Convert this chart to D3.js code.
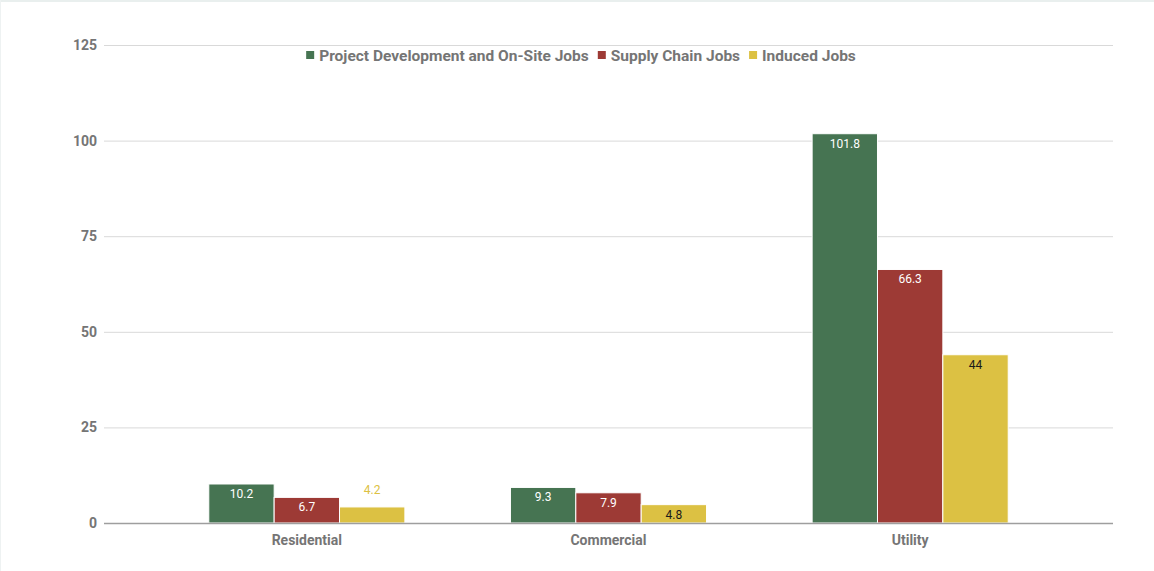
<!DOCTYPE html>
<html>
<head>
<meta charset="utf-8">
<script src="https://cdn.jsdelivr.net/npm/d3@7"></script>
<style>
  html, body { margin: 0; padding: 0; background: #fff; }
  svg { display: block; font-family: Roboto, "Noto Sans", sans-serif; }
</style>
</head>
<body>
<svg id="chart" width="1154" height="571"></svg>
<script>
// Jobs per installation type, by job category
const categories = ["Residential", "Commercial", "Utility"];
const seriesNames = ["Project Development and On-Site Jobs", "Supply Chain Jobs", "Induced Jobs"];
const onSiteJobs = [10.2, 9.3, 101.8];
const supplyChainJobs = [6.7, 7.9, 66.3];
const inducedJobs = [4.2, 4.8, 44];
const yTicks = [0, 25, 50, 75, 100, 125];

const seriesValues = [onSiteJobs, supplyChainJobs, inducedJobs];
const colors = ["#467452", "#9d3a35", "#dcc143"];
const labelColors = ["#ffffff", "#ffffff", "#1a1a1a"];

const svg = d3.select("#chart");
const W = 1154, H = 571;

// frame lines along the top and left edges
svg.append("rect").attr("x", 0).attr("y", 0).attr("width", W).attr("height", 2).attr("fill", "#e9efee");
svg.append("rect").attr("x", 0).attr("y", 0).attr("width", 1).attr("height", H).attr("fill", "#eef2f2");

const plotLeft = 104, plotRight = 1113;
const y = d3.scaleLinear().domain([0, 125]).range([523, 45]);

const x0 = d3.scaleBand().domain(categories).range([156, 1061]).paddingInner(0.35).paddingOuter(0.175);
const x1 = d3.scaleBand().domain(d3.range(seriesNames.length)).range([0, x0.bandwidth()]);

// horizontal gridlines
svg.append("g").selectAll("line").data(yTicks.filter(d => d > 0)).join("line")
  .attr("x1", plotLeft).attr("x2", plotRight)
  .attr("y1", d => y(d) + 0.5).attr("y2", d => y(d) + 0.5)
  .attr("stroke", "#d9d9d9").attr("stroke-width", 1);

// y-axis tick labels
svg.append("g").selectAll("text").data(yTicks).join("text")
  .attr("x", 97).attr("y", d => y(d))
  .attr("dy", "0.36em")
  .attr("text-anchor", "end")
  .attr("font-size", 14).attr("font-weight", "bold")
  .attr("fill", "#757575")
  .text(d => d);

// bars with value labels (inside the bar top when it fits, above otherwise)
const groups = svg.append("g").selectAll("g").data(categories).join("g")
  .attr("transform", c => `translate(${x0(c)},0)`);

groups.each(function(c, ci) {
  const g = d3.select(this);
  seriesValues.forEach((vals, si) => {
    const v = vals[ci];
    const bx = x1(si), bw = x1.bandwidth();
    g.append("rect")
      .attr("x", bx).attr("y", y(v))
      .attr("width", bw).attr("height", y(0) - y(v))
      .attr("fill", colors[si])
      .attr("stroke", "#ffffff").attr("stroke-width", 1);
    const h = y(0) - y(v);
    const inside = h > 17;
    g.append("text")
      .attr("x", bx + bw / 2)
      .attr("y", inside ? y(v) + 14 : y(v) - 13)
      .attr("text-anchor", "middle")
      .attr("font-size", 12)
      .attr("fill", inside ? labelColors[si] : colors[si])
      .text(v);
  });
});

// baseline
svg.append("line")
  .attr("x1", plotLeft).attr("x2", plotRight)
  .attr("y1", y(0) + 0.5).attr("y2", y(0) + 0.5)
  .attr("stroke", "#9e9e9e").attr("stroke-width", 1.5);

// category labels
svg.append("g").selectAll("text").data(categories).join("text")
  .attr("x", c => x0(c) + x0.bandwidth() / 2)
  .attr("y", 545)
  .attr("text-anchor", "middle")
  .attr("font-size", 14).attr("font-weight", "bold")
  .attr("fill", "#757575")
  .text(c => c);

// legend
const legend = svg.append("g");
let lx = 0;
seriesNames.forEach((name, i) => {
  const it = legend.append("g").attr("transform", `translate(${lx},0)`);
  it.append("rect").attr("x", 0).attr("y", -4).attr("width", 8).attr("height", 8).attr("fill", colors[i]);
  const t = it.append("text").attr("x", 13).attr("y", 0).attr("dy", "0.36em")
    .attr("font-size", 15.5).attr("font-weight", "bold").attr("fill", "#757575").text(name);
  lx += 13 + t.node().getComputedTextLength() + 9;
});
const legendWidth = lx - 9;
legend.attr("transform", `translate(${581 - legendWidth / 2},55)`);
</script>
</body>
</html>
